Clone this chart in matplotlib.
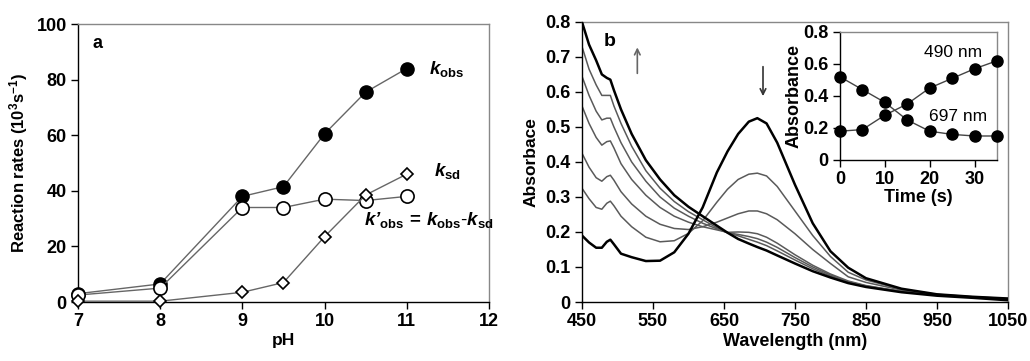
import matplotlib
matplotlib.use("Agg")
import matplotlib.pyplot as plt

plt.rcParams['font.family'] = ['Liberation Sans', 'DejaVu Sans']
plt.rcParams['mathtext.fontset'] = 'custom'
plt.rcParams['mathtext.rm'] = 'Liberation Sans'
plt.rcParams['mathtext.it'] = 'Liberation Sans:italic'
plt.rcParams['mathtext.bf'] = 'Liberation Sans:bold'
plt.rcParams['mathtext.bfit'] = 'Liberation Sans:bold:italic'

# ---------------- Panel a data ----------------
ph = [7, 8, 9, 9.5, 10, 10.5, 11]
k_obs = [3.0, 6.5, 38.0, 41.5, 60.5, 75.5, 84.0]
k_prime_obs = [2.5, 5.0, 34.0, 34.0, 37.0, 36.5, 38.0]
k_sd = [0.3, 0.3, 3.5, 7.0, 23.5, 38.5, 46.0]

# ---------------- Panel b data ----------------
wavelength = [450, 460, 470, 478, 485, 490, 495, 505, 520, 540, 560, 580, 600,
              620, 640, 655, 670, 685, 697, 710, 725, 750, 775, 800, 825, 850,
              900, 950, 1000, 1050]
spec_0 = [0.19, 0.17, 0.155, 0.155, 0.172, 0.178, 0.165, 0.138, 0.128, 0.117,
          0.118, 0.142, 0.195, 0.27, 0.37, 0.43, 0.48, 0.515, 0.525, 0.51,
          0.455, 0.335, 0.225, 0.145, 0.098, 0.068, 0.038, 0.022, 0.015, 0.01]
spec_1 = [0.325, 0.295, 0.27, 0.265, 0.282, 0.288, 0.275, 0.245, 0.215, 0.185,
          0.172, 0.175, 0.196, 0.232, 0.285, 0.322, 0.35, 0.365, 0.368, 0.36,
          0.33, 0.26, 0.19, 0.13, 0.085, 0.063, 0.036, 0.022, 0.015, 0.01]
spec_2 = [0.425, 0.385, 0.355, 0.345, 0.358, 0.362, 0.348, 0.315, 0.28, 0.245,
          0.222, 0.21, 0.207, 0.215, 0.228, 0.24, 0.252, 0.26, 0.26, 0.252,
          0.235, 0.195, 0.15, 0.11, 0.072, 0.056, 0.034, 0.021, 0.014, 0.009]
spec_3 = [0.56, 0.51, 0.47, 0.448, 0.458, 0.46, 0.44, 0.395, 0.35, 0.305,
          0.27, 0.245, 0.228, 0.215, 0.206, 0.199, 0.2, 0.199, 0.195, 0.185,
          0.168, 0.135, 0.105, 0.08, 0.06, 0.047, 0.03, 0.02, 0.013, 0.008]
spec_4 = [0.645, 0.59, 0.545, 0.52, 0.525, 0.525, 0.5, 0.455, 0.4, 0.345,
          0.3, 0.268, 0.245, 0.225, 0.209, 0.198, 0.193, 0.187, 0.181, 0.171,
          0.156, 0.127, 0.1, 0.077, 0.058, 0.046, 0.03, 0.02, 0.013, 0.008]
spec_5 = [0.73, 0.665, 0.62, 0.59, 0.59, 0.59, 0.56, 0.51, 0.445, 0.375,
          0.325, 0.287, 0.258, 0.235, 0.212, 0.198, 0.189, 0.179, 0.171, 0.161,
          0.146, 0.12, 0.095, 0.074, 0.057, 0.045, 0.03, 0.02, 0.013, 0.008]
spec_6 = [0.80, 0.735, 0.69, 0.65, 0.64, 0.635, 0.605, 0.55, 0.48, 0.405,
          0.35, 0.305, 0.272, 0.245, 0.218, 0.198, 0.18, 0.167, 0.157, 0.147,
          0.133, 0.11, 0.088, 0.07, 0.054, 0.043, 0.028, 0.018, 0.012, 0.005]

# ---------------- Inset data ----------------
time_s = [0, 5, 10, 15, 20, 25, 30, 35]
abs_490 = [0.18, 0.19, 0.28, 0.35, 0.45, 0.51, 0.57, 0.62]
abs_697 = [0.52, 0.44, 0.36, 0.25, 0.18, 0.16, 0.15, 0.15]

fig = plt.figure(figsize=(10.30, 3.61), dpi=100)

BOLD = dict(fontweight='bold')
TICKFS = 13
GRAYSP = '#888888'
LINEC = '#666666'


def style_axes(ax, fs=TICKFS):
    for s in ('top', 'right'):
        ax.spines[s].set_color(GRAYSP)
        ax.spines[s].set_linewidth(1.0)
    for s in ('left', 'bottom'):
        ax.spines[s].set_color('black')
        ax.spines[s].set_linewidth(1.0)
    ax.tick_params(direction='out', length=5, width=1, labelsize=fs,
                   top=False, right=False, pad=3)
    for lab in ax.get_xticklabels() + ax.get_yticklabels():
        lab.set_fontweight('bold')


# ---------------- Panel a ----------------
axa = fig.add_axes([0.0757, 0.1634, 0.399, 0.770])
axa.plot(ph, k_obs, '-', color=LINEC, lw=1.0, marker='o', ms=9.5,
         mfc='black', mec='black', zorder=3, clip_on=False)
axa.plot(ph, k_prime_obs, '-', color=LINEC, lw=1.0, marker='o', ms=9.5,
         mfc='white', mec='black', mew=1.2, zorder=3, clip_on=False)
axa.plot(ph, k_sd, '-', color=LINEC, lw=1.0, marker='D', ms=6.5,
         mfc='white', mec='black', mew=1.2, zorder=4, clip_on=False)
axa.set_xlim(7, 12)
axa.set_ylim(0, 100)
axa.set_xticks([7, 8, 9, 10, 11, 12])
axa.set_yticks([0, 20, 40, 60, 80, 100])
style_axes(axa)
axa.set_xlabel('pH', fontsize=12.5, labelpad=2, **BOLD)
axa.set_ylabel(r'Reaction rates (10$^{\mathbf{3}}$s$^{\mathbf{-1}}$)',
               fontsize=12, labelpad=5, **BOLD)
axa.text(7.18, 93, 'a', fontsize=13, ha='left', va='center', **BOLD)
axa.text(11.27, 84, r'$\mathbfit{k}_{\mathbf{obs}}$', fontsize=13.5,
         ha='left', va='center')
axa.text(11.33, 47, r'$\mathbfit{k}_{\mathbf{sd}}$', fontsize=13.5,
         ha='left', va='center')
axa.text(11.27, 29.5,
         "$\\mathbfit{k\u2019}_{\\mathbf{obs}}\\mathbf{\\,=\\,}\\mathbfit{k}_{\\mathbf{obs}}"
         "\\mathbf{\\text{-}}\\mathbfit{k}_{\\mathbf{sd}}$",
         fontsize=13.5, ha='center', va='center')

# ---------------- Panel b ----------------
axb = fig.add_axes([0.565, 0.1634, 0.4136, 0.776])
spectra = [spec_0, spec_1, spec_2, spec_3, spec_4, spec_5, spec_6]
for i, sp in enumerate(spectra):
    if i in (0, len(spectra) - 1):
        axb.plot(wavelength, sp, color='black', lw=1.8, zorder=3)
    else:
        axb.plot(wavelength, sp, color='#5a5a5a', lw=1.1, zorder=2)
axb.set_xlim(450, 1050)
axb.set_ylim(0, 0.8)
axb.set_xticks([450, 550, 650, 750, 850, 950, 1050])
axb.set_yticks([0, 0.1, 0.2, 0.3, 0.4, 0.5, 0.6, 0.7, 0.8])
axb.set_yticklabels(['0', '0.1', '0.2', '0.3', '0.4', '0.5', '0.6', '0.7', '0.8'])
style_axes(axb)
axb.set_xlabel('Wavelength (nm)', fontsize=13, labelpad=2, **BOLD)
axb.set_ylabel('Absorbace', fontsize=12.5, labelpad=5, **BOLD)
axb.text(489, 0.745, 'b', fontsize=14, ha='center', va='center', **BOLD)
axb.annotate('', xy=(528, 0.735), xytext=(528, 0.645),
             arrowprops=dict(arrowstyle='->', color='#666666', lw=1.2))
axb.annotate('', xy=(705, 0.58), xytext=(705, 0.68),
             arrowprops=dict(arrowstyle='->', color='#333333', lw=1.2))

# ---------------- Inset ----------------
axi = fig.add_axes([0.8155, 0.5568, 0.1524, 0.3546])
axi.plot(time_s, abs_490, '-', color='#444444', lw=1.0, marker='o', ms=8,
         mfc='black', mec='black', zorder=3, clip_on=False)
axi.plot(time_s, abs_697, '-', color='#444444', lw=1.0, marker='o', ms=8,
         mfc='black', mec='black', zorder=3, clip_on=False)
axi.set_xlim(0, 35)
axi.set_ylim(0, 0.8)
axi.set_xticks([0, 10, 20, 30])
axi.set_yticks([0, 0.2, 0.4, 0.6, 0.8])
axi.set_yticklabels(['0', '0.2', '0.4', '0.6', '0.8'])
style_axes(axi, fs=13)
axi.set_xlabel('Time (s)', fontsize=13, labelpad=1, **BOLD)
axi.set_ylabel('Absorbance', fontsize=13, labelpad=1, **BOLD)
axi.text(25.2, 0.67, '490 nm', fontsize=12.5, ha='center', va='center')
axi.text(26.3, 0.27, '697 nm', fontsize=12.5, ha='center', va='center')

fig.savefig('out.png', dpi=100)
